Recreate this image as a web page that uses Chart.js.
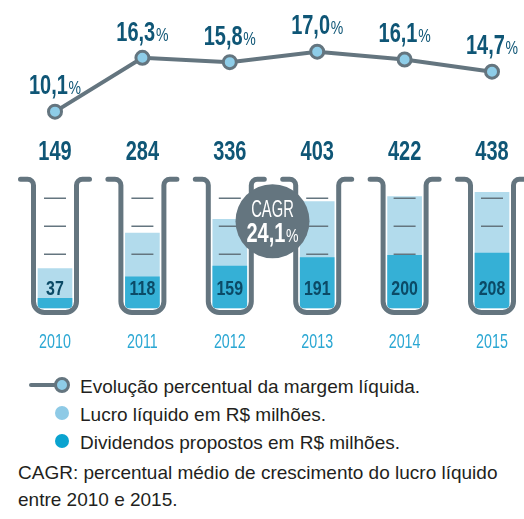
<!DOCTYPE html>
<html lang="pt-BR">
<head>
<meta charset="utf-8">
<title>Lucro, dividendos e margem</title>
<script src="https://cdn.jsdelivr.net/npm/chart.js@4.4.1/dist/chart.umd.min.js"></script>
<style>
  html, body { margin: 0; padding: 0; background: #fff; }
  body { width: 524px; height: 519px; position: relative; overflow: hidden;
         font-family: 'Liberation Sans', Arial, sans-serif; color: #231f20; }
  #chart { position: absolute; left: 0; top: 0; }
  .txt { position: absolute; font-size: 19px; line-height: 28px; white-space: nowrap; }
  .ico { position: absolute; }
</style>
</head>
<body>
<canvas id="chart" width="524" height="365"></canvas>

<div class="ico" style="left:29px;top:383px;width:28px;height:4px;background:#64757f;border-radius:2px;"></div>
<div class="ico" style="left:54px;top:377px;width:10px;height:10px;border:3px solid #64757f;border-radius:50%;background:#8ecde8;"></div>
<div class="txt" style="left:80px;top:373px;">Evolução percentual da margem líquida.</div>

<div class="ico" style="left:55px;top:406px;width:14px;height:14px;border-radius:50%;background:#8ecae6;"></div>
<div class="txt" style="left:80px;top:401px;">Lucro líquido em R$ milhões.</div>

<div class="ico" style="left:55px;top:434px;width:14px;height:14px;border-radius:50%;background:#0aa3cf;"></div>
<div class="txt" style="left:80px;top:429px;">Dividendos propostos em R$ milhões.</div>

<div class="txt" style="left:18px;top:459px;">CAGR: percentual médio de crescimento do lucro líquido</div>
<div class="txt" style="left:18px;top:486px;">entre 2010 e 2015.</div>

<script>
// dados
const years = ['2010', '2011', '2012', '2013', '2014', '2015'];
const margem = [10.1, 16.3, 15.8, 17.0, 16.1, 14.7];
const lucro = [149, 284, 336, 403, 422, 438];
const dividendos = [37, 118, 159, 191, 200, 208];
const cagr = 24.1;

const FONT = "'Liberation Sans', Arial, sans-serif";
const GRAY = '#64757f';
const NAVY = '#0f5676';
const TUBE_TOP = 488;          // valor no eixo y onde fica a boca do tubo
const TUBE_MARKS = [205, 311, 417];

const fmt = v => v.toFixed(1).replace('.', ',');

// texto "condensado": fonte normal comprimida na horizontal
function condText(ctx, txt, x, y, font, sx) {
    ctx.save();
    ctx.font = font;
    ctx.textAlign = 'center';
    ctx.textBaseline = 'middle';
    ctx.translate(x, y);
    ctx.scale(sx, 1);
    ctx.fillText(txt, 0, 0);
    ctx.restore();
}

function pctLabel(ctx, txt, x, y, size, sx) {
    const fBig = `bold ${size}px ${FONT}`;
    const fSmall = `${Math.round(size * 0.72)}px ${FONT}`;
    ctx.save();
    ctx.font = fBig;
    const w1 = ctx.measureText(txt).width;
    ctx.font = fSmall;
    const w2 = ctx.measureText('%').width;
    ctx.translate(x, y + size * 0.36);
    ctx.scale(sx, 1);
    const x0 = -(w1 + w2 + 1) / 2;
    ctx.textAlign = 'left';
    ctx.textBaseline = 'alphabetic';
    ctx.font = fBig;
    ctx.fillText(txt, x0, 0);
    ctx.font = fSmall;
    ctx.fillText('%', x0 + w1 + 1, 0);
    ctx.restore();
}

const tubes = {
    id: 'tubes',
    beforeDatasetsDraw(chart) {
        const ctx = chart.ctx, ys = chart.scales.y;
        const t = ys.getPixelForValue(TUBE_TOP);
        const b = ys.getPixelForValue(0) + 4.5;
        const w = 21.5, f = 34.5, r1 = 6, r2 = 11;
        ctx.save();
        ctx.strokeStyle = GRAY;
        ctx.lineWidth = 5;
        ctx.lineCap = 'round';
        ctx.lineJoin = 'round';
        chart.getDatasetMeta(1).data.forEach(bar => {
            const cx = bar.x;
            ctx.beginPath();
            ctx.moveTo(cx - f, t);
            ctx.arcTo(cx - w, t, cx - w, b, r1);
            ctx.arcTo(cx - w, b, cx + w, b, r2);
            ctx.arcTo(cx + w, b, cx + w, t, r2);
            ctx.arcTo(cx + w, t, cx + f, t, r1);
            ctx.lineTo(cx + f, t);
            ctx.stroke();
        });
        ctx.restore();
    },
    afterDatasetDraw(chart, args) {
        if (args.index !== 1) return;
        const ctx = chart.ctx, ys = chart.scales.y;
        ctx.save();
        ctx.strokeStyle = GRAY;
        ctx.lineWidth = 1.5;
        args.meta.data.forEach(bar => {
            TUBE_MARKS.forEach(v => {
                const y = Math.round(ys.getPixelForValue(v)) + 0.25;
                ctx.beginPath();
                ctx.moveTo(bar.x - 11, y);
                ctx.lineTo(bar.x + 11, y);
                ctx.stroke();
            });
        });
        ctx.restore();
    },
    afterDatasetsDraw(chart) {
        const ctx = chart.ctx, ys = chart.scales.y, xs = chart.scales.x;
        const t = ys.getPixelForValue(TUBE_TOP);
        const zero = ys.getPixelForValue(0);

        // anos (rótulos do eixo x)
        ctx.fillStyle = '#2aa7d3';
        xs.getLabels().forEach((lab, i) => {
            condText(ctx, lab, xs.getPixelForValue(i), zero + 34, `21px ${FONT}`, 0.68);
        });

        // lucro acima do tubo
        ctx.fillStyle = NAVY;
        chart.getDatasetMeta(1).data.forEach((bar, i) => {
            condText(ctx, String(lucro[i]), bar.x, t - 27, `bold 27px ${FONT}`, 0.74);
        });

        // dividendos dentro do tubo
        ctx.fillStyle = '#0b4a66';
        chart.getDatasetMeta(2).data.forEach((bar, i) => {
            condText(ctx, String(dividendos[i]), bar.x, zero - 19, `bold 21px ${FONT}`, 0.76);
        });

        // margem
        ctx.fillStyle = NAVY;
        chart.getDatasetMeta(0).data.forEach((pt, i) => {
            pctLabel(ctx, fmt(margem[i]), pt.x, pt.y - 27, 27, 0.74);
        });

        // CAGR
        const bars = chart.getDatasetMeta(1).data;
        const cx = (bars[2].x + bars[3].x) / 2 - 1, cy = t + 42;
        ctx.save();
        ctx.fillStyle = GRAY;
        ctx.beginPath();
        ctx.arc(cx, cy, 37, 0, Math.PI * 2);
        ctx.fill();
        ctx.restore();
        ctx.fillStyle = '#fff';
        condText(ctx, 'CAGR', cx, cy - 11, `23px ${FONT}`, 0.64);
        pctLabel(ctx, fmt(cagr), cx, cy + 11, 27, 0.74);
    }
};

new Chart(document.getElementById('chart'), {
    data: {
        labels: years,
        datasets: [
            {
                type: 'line',
                label: 'Evolução percentual da margem líquida',
                data: margem,
                yAxisID: 'y2',
                order: 0,
                borderColor: GRAY,
                borderWidth: 4,
                pointRadius: 6.5,
                pointBorderWidth: 3,
                pointBorderColor: GRAY,
                pointBackgroundColor: '#8ecde8',
                tension: 0,
                clip: false
            },
            {
                type: 'bar',
                label: 'Lucro líquido em R$ milhões',
                data: lucro,
                yAxisID: 'y',
                order: 2,
                grouped: false,
                barThickness: 34,
                backgroundColor: '#b2dbec',
                borderWidth: 0,
                borderSkipped: false,
                borderRadius: { topLeft: 0, topRight: 0, bottomLeft: 4, bottomRight: 4 },
                clip: false
            },
            {
                type: 'bar',
                label: 'Dividendos propostos em R$ milhões',
                data: dividendos,
                yAxisID: 'y',
                order: 1,
                grouped: false,
                barThickness: 34,
                backgroundColor: '#35b0d6',
                borderWidth: 0,
                borderSkipped: false,
                borderRadius: { topLeft: 0, topRight: 0, bottomLeft: 4, bottomRight: 4 },
                clip: false
            }
        ]
    },
    options: {
        responsive: false,
        devicePixelRatio: 1,
        animation: false,
        events: [],
        layout: { padding: { left: 55, right: 32, top: 10, bottom: 57 } },
        plugins: {
            legend: { display: false },
            tooltip: { enabled: false }
        },
        scales: {
            x: {
                offset: false,
                grid: { display: false, drawTicks: false },
                border: { display: false },
                ticks: { display: false }
            },
            y: { display: false, min: 0, max: 1129 },
            y2: { display: false, min: -12.5, max: 21.8 }
        }
    },
    plugins: [tubes]
});
</script>
</body>
</html>
